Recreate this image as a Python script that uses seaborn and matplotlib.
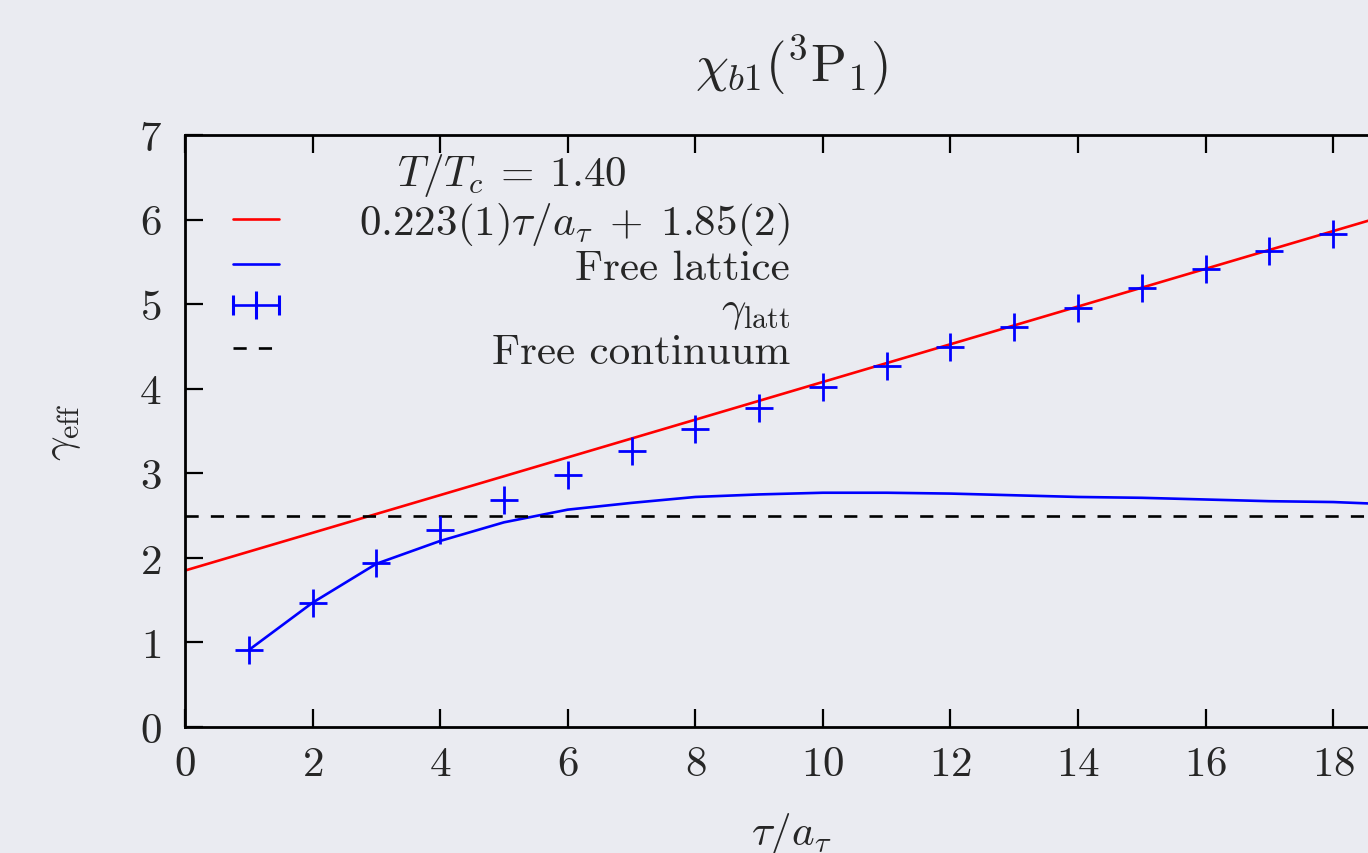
import matplotlib
matplotlib.use("Agg")
import matplotlib.pyplot as plt
import seaborn as sns
import pandas as pd
from matplotlib.lines import Line2D
from matplotlib.legend_handler import HandlerLine2D, HandlerTuple

# datos
tau = [1, 2, 3, 4, 5, 6, 7, 8, 9, 10, 11, 12, 13, 14, 15, 16, 17, 18, 19]
gamma_latt = [0.91, 1.47, 1.94, 2.33, 2.68, 2.98, 3.26, 3.52, 3.77, 4.02,
              4.27, 4.49, 4.73, 4.95, 5.19, 5.42, 5.63, 5.83, 6.05]
gamma_latt_err = [0.01, 0.01, 0.01, 0.01, 0.01, 0.01, 0.01, 0.01, 0.01, 0.01,
                  0.01, 0.01, 0.01, 0.01, 0.01, 0.01, 0.01, 0.01, 0.01]
free_lattice = [0.91, 1.47, 1.93, 2.20, 2.42, 2.57, 2.65, 2.72, 2.75, 2.77,
                2.77, 2.76, 2.74, 2.72, 2.71, 2.69, 2.67, 2.66, 2.63]
free_continuum = 2.5
fit_slope = 0.223
fit_intercept = 1.85

x_ticks = [0, 2, 4, 6, 8, 10, 12, 14, 16, 18]
y_ticks = [0, 1, 2, 3, 4, 5, 6, 7]

df = pd.DataFrame({"tau": tau, "latt": gamma_latt, "err": gamma_latt_err, "free": free_lattice})

sns.set_style("darkgrid")
plt.rcParams["font.family"] = ["cmr10", "DejaVu Sans"]
plt.rcParams["mathtext.fontset"] = "cm"
plt.rcParams["axes.formatter.use_mathtext"] = True
plt.rcParams["axes.unicode_minus"] = False

bg = "#eaebf1"
fig = plt.figure(figsize=(13.68, 8.54), dpi=100, facecolor=bg)
ax = fig.add_axes([185 / 1368, (854 - 728) / 854, 1212 / 1368, 592 / 854])
ax.set_facecolor(bg)
ax.grid(False)

fs = 31
dash = (0, (5, 4.6))

# ajuste lineal
ax.axline((0, fit_intercept), slope=fit_slope, color="red", lw=1.9)
# red libre
sns.lineplot(data=df, x="tau", y="free", color="blue", lw=1.9, ax=ax)
# continuo libre
ax.axhline(free_continuum, color="black", lw=1.9, ls=dash)
# datos
ax.errorbar(df["tau"], df["latt"], yerr=df["err"], fmt="none", ecolor="blue", elinewidth=1.9)
ax.plot(df["tau"], df["latt"], ls="none", marker="+", ms=20, mew=2.0, color="blue")

ax.set_xticks(x_ticks)
ax.set_yticks(y_ticks)
ax.set_xlim(0, 19)
ax.set_ylim(0, 7)

for s in ["left", "bottom", "top", "right"]:
    ax.spines[s].set_visible(True)
    ax.spines[s].set_color("black")
    ax.spines[s].set_linewidth(2.0)

ax.tick_params(axis="both", which="major", direction="in", length=13, width=1.6,
               top=True, right=True, bottom=True, left=True, labelsize=fs, color="black")
ax.tick_params(axis="x", pad=13)
ax.tick_params(axis="y", pad=17)

ax.set_xlabel(r"$\tau/a_\tau$", fontsize=fs, labelpad=20)
ax.set_ylabel(r"$\gamma_{\rm eff}$", fontsize=fs, labelpad=40)
ax.set_title(r"$\chi_{b1}(^3{\rm P}_1)$", fontsize=38, pad=40)

# leyenda al estilo gnuplot
h_fit = Line2D([], [], color="red", lw=1.9)
h_free = Line2D([], [], color="blue", lw=1.9)
h_caps = Line2D([], [], color="blue", lw=1.9, marker="|", ms=14, mew=2.2)
h_mid = Line2D([], [], color="blue", ls="none", marker="|", ms=20, mew=2.2)
h_cont = Line2D([], [], color="black", lw=1.9, ls=dash)

leg = ax.legend(
    [h_fit, h_free, (h_caps, h_mid), h_cont],
    [r"$0.223(1)\tau/a_\tau\;+\;1.85(2)$", "Free lattice", r"$\gamma_{\rm latt}$", "Free continuum"],
    title=r"$T/T_c\:=\:1.40$", title_fontsize=fs, fontsize=fs, frameon=False,
    loc="upper left", bbox_to_anchor=(0.015, 1.024), handlelength=1.05, handletextpad=1.88,
    labelspacing=0.05, borderpad=0.2,
    handler_map={h_caps: HandlerLine2D(numpoints=2, marker_pad=0),
                 h_mid: HandlerLine2D(numpoints=1),
                 tuple: HandlerTuple(ndivide=1)},
)

# textos alineados a la derecha
fig.canvas.draw()
renderer = fig.canvas.get_renderer()
widths = [t.get_window_extent(renderer).width for t in leg.get_texts()]
shift = max(widths)
for t, w in zip(leg.get_texts(), widths):
    t.set_position((shift - w, 0))

fig.savefig("out.png", dpi=100, facecolor=bg)
